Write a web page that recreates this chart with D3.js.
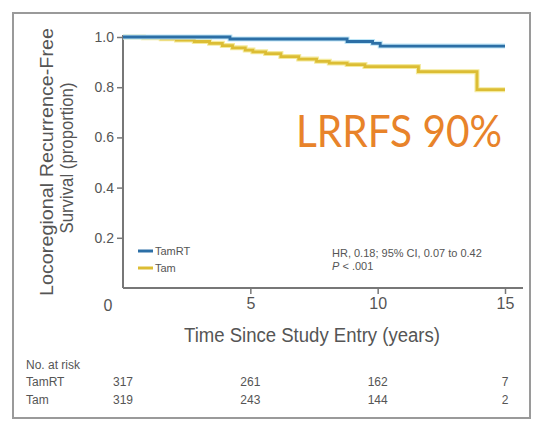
<!DOCTYPE html>
<html><head><meta charset="utf-8">
<script src="https://cdn.jsdelivr.net/npm/d3@7"></script>
<style>
html,body{margin:0;padding:0;background:#fff;}
text{font-family:"Liberation Sans Narrow","Arial Narrow","Liberation Sans",sans-serif;fill:#555;}
</style></head>
<body><svg id="c" width="535" height="422"></svg>
<script>
const seriesNames = ["TamRT", "Tam"];
const seriesColors = ["#2c6fa6", "#dcbd34"];
const haloColors = ["#bfe6f7", "#f4ea9c"];
const tamRTTime = [0, 4.2, 8.8, 9.8, 10.1, 15];
const tamRTSurv = [1.0, 0.992, 0.982, 0.975, 0.964, 0.964];
const tamTime = [0, 0.8, 1.5, 2.1, 2.8, 3.4, 3.9, 4.3, 4.8, 5.1, 5.6, 6.2, 6.9, 7.6, 8.1, 8.8, 9.5, 11.6, 13.9, 15];
const tamSurv = [1.0, 0.997, 0.993, 0.988, 0.982, 0.975, 0.966, 0.957, 0.948, 0.941, 0.934, 0.922, 0.912, 0.903, 0.896, 0.89, 0.882, 0.862, 0.79, 0.79];
const xTicks = [5, 10, 15];
const yTicks = [0.2, 0.4, 0.6, 0.8, 1.0];
const riskTimes = [0, 5, 10, 15];
const riskTamRT = [317, 261, 162, 7];
const riskTam = [319, 243, 144, 2];

const svg = d3.select("#c");
svg.append("rect").attr("x",13).attr("y",13).attr("width",517).attr("height",405)
  .attr("fill","#fff").attr("stroke","#9a9a9a").attr("stroke-width",2);

const x = d3.scaleLinear().domain([0,15]).range([123,505]);
const y = d3.scaleLinear().domain([0,1]).range([288,37]);

// axes
const g = svg.append("g");
g.append("line").attr("x1",x(0)).attr("x2",523).attr("y1",y(0)).attr("y2",y(0)).attr("stroke","#777").attr("stroke-width",2);
g.append("line").attr("x1",x(0)).attr("x2",x(0)).attr("y1",y(0)).attr("y2",y(1)-2).attr("stroke","#777").attr("stroke-width",2);
const yAxis = svg.append("g").attr("transform",`translate(${x(0)},0)`)
  .call(d3.axisLeft(y).tickValues(yTicks).tickFormat(d3.format(".1f")).tickSize(6).tickPadding(3));
yAxis.select(".domain").remove();
yAxis.selectAll("line").attr("stroke","#777").attr("stroke-width",1.5);
yAxis.selectAll("text").style("font-size","14px").attr("fill","#555");
const xAxis = svg.append("g").attr("transform",`translate(0,${y(0)})`)
  .call(d3.axisBottom(x).tickValues(xTicks).tickSize(6).tickPadding(4));
xAxis.select(".domain").remove();
xAxis.selectAll("line").attr("stroke","#777").attr("stroke-width",1.5);
xAxis.selectAll("text").style("font-size","16px").attr("fill","#555");
svg.append("text").attr("x",108).attr("y",311).attr("text-anchor","middle").style("font-size","16px").text("0");

// curves
const line = d3.line().x(d=>x(d[0])).y(d=>y(d[1])).curve(d3.curveStepAfter);
const data = [d3.zip(tamRTTime, tamRTSurv), d3.zip(tamTime, tamSurv)];
[1,0].forEach(i=>{
  svg.append("path").datum(data[i]).attr("d",line).attr("fill","none").attr("stroke",haloColors[i]).attr("stroke-width",5);
  svg.append("path").datum(data[i]).attr("d",line).attr("fill","none").attr("stroke",seriesColors[i]).attr("stroke-width",2.8);
});

// legend
seriesNames.forEach((n,i)=>{
  const ly = 251 + i*17;
  svg.append("line").attr("x1",138).attr("x2",153).attr("y1",ly).attr("y2",ly).attr("stroke",seriesColors[i]).attr("stroke-width",3);
  svg.append("text").attr("x",155).attr("y",ly+4).style("font-size","11px").text(n);
});

// HR text
svg.append("text").attr("x",332).attr("y",257).style("font-size","11px").text("HR, 0.18; 95% CI, 0.07 to 0.42");
const pt = svg.append("text").attr("x",332).attr("y",270).style("font-size","11px");
pt.append("tspan").style("font-style","italic").text("P");
pt.append("tspan").text(" < .001");

// axis titles
svg.append("text").attr("x",312).attr("y",342).attr("text-anchor","middle").style("font-size","20px")
  .attr("textLength",256).attr("lengthAdjust","spacingAndGlyphs").text("Time Since Study Entry (years)");
svg.append("text").attr("transform","translate(53,162) rotate(-90)").attr("text-anchor","middle").style("font-size","18px")
  .attr("textLength",268).attr("lengthAdjust","spacingAndGlyphs").text("Locoregional Recurrence-Free");
svg.append("text").attr("transform","translate(73,158) rotate(-90)").attr("text-anchor","middle").style("font-size","18px")
  .attr("textLength",151).attr("lengthAdjust","spacingAndGlyphs").text("Survival (proportion)");

// risk table
svg.append("text").attr("x",26).attr("y",369).style("font-size","12px").text("No. at risk");
[[seriesNames[0], riskTamRT, 386],[seriesNames[1], riskTam, 404]].forEach(([n,vals,ry])=>{
  svg.append("text").attr("x",26).attr("y",ry).style("font-size","12px").text(n);
  vals.forEach((v,j)=>{
    svg.append("text").attr("x",x(riskTimes[j])).attr("y",ry).attr("text-anchor","middle").style("font-size","12px").text(v);
  });
});

// annotation
svg.append("text").attr("x",296).attr("y",147).style("font-family","Lato, 'Open Sans', sans-serif").style("font-size","44px")
  .style("fill","#e8832a").attr("textLength",206).attr("lengthAdjust","spacingAndGlyphs").text("LRRFS 90%");
</script></body></html>
